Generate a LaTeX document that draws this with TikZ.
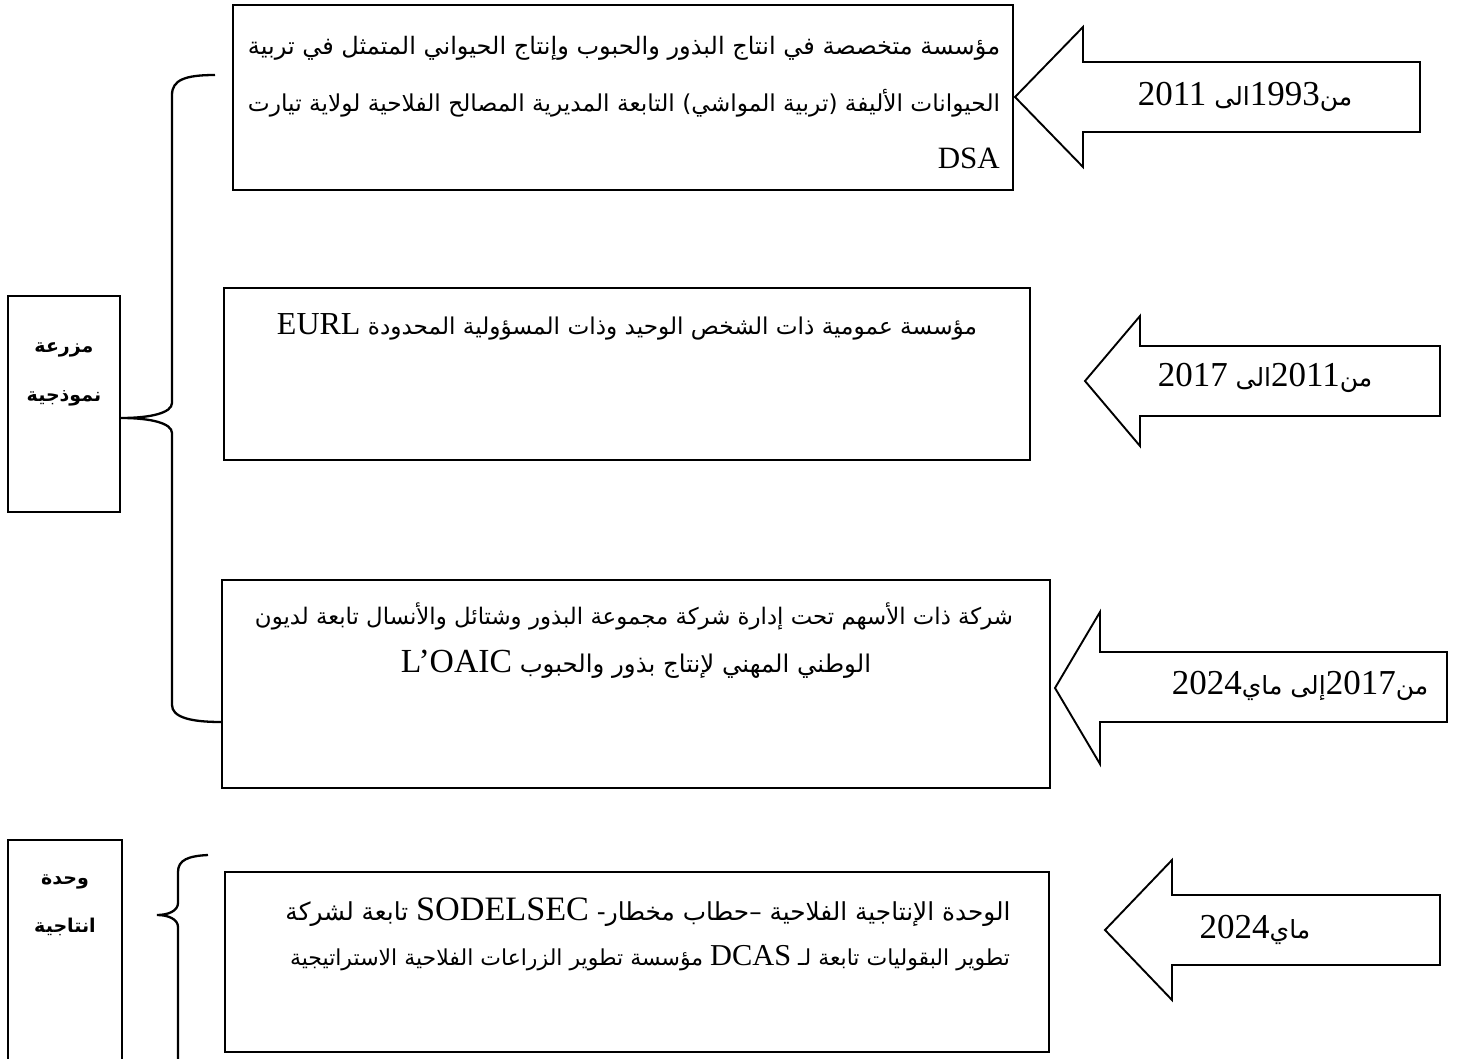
\documentclass[tikz,border=0pt]{standalone}
\usepackage{graphicx}
\usepackage{fontspec}
\setmainfont{Liberation Serif}
\newfontfamily\arabicfont[Script=Arabic]{DejaVu Sans}
\TeXXeTstate=1
\newcommand{\ArT}{\arabicfont\fontsize{21}{24}\selectfont}
\newcommand{\LaT}{\rmfamily\fontsize{29}{32}\selectfont}
\newcommand{\LaB}{\rmfamily\fontsize{31}{34}\selectfont}
\newcommand{\ArA}{\arabicfont\fontsize{25}{28}\selectfont}
\newcommand{\LaA}{\rmfamily\fontsize{35}{38}\selectfont}
\newcommand{\ArS}{\arabicfont\bfseries\fontsize{19}{22}\selectfont}
\begin{document}
\begin{tikzpicture}[x=1pt,y=-1pt,
  boxs/.style={draw, line width=2.3pt, inner sep=0pt},
  arrs/.style={draw, line width=1.9pt, line join=miter},
  brs/.style={draw, line width=2.3pt},
  txt/.style={inner sep=0pt, anchor=center}]
\useasboundingbox[fill=white] (0,0) rectangle (1464,1059);

% main boxes
\node[boxs, minimum width=780pt, minimum height=185pt] (b1) at (623,97.5) {};
\node[boxs, minimum width=806pt, minimum height=172pt] (b2) at (627,374) {};
\node[boxs, minimum width=828pt, minimum height=208pt] (b3) at (636,684) {};
\node[boxs, minimum width=824pt, minimum height=180pt] (b4) at (637,962) {};
\node[boxs, minimum width=112pt, minimum height=216pt] (bA) at (64,404) {};
\node[boxs, minimum width=114pt, minimum height=240pt] (bB) at (65,960) {};

% box texts
\node[txt] (t1a) at (624,48) {\resizebox{752pt}{!}{\ArT\beginR مؤسسة متخصصة في انتاج البذور والحبوب وإنتاج الحيواني المتمثل في تربية\endR}};
\node[txt] (t1b) at (624,103) {\resizebox{752pt}{!}{\ArT\beginR الحيوانات الأليفة (تربية المواشي) التابعة المديرية المصالح الفلاحية لولاية تيارت\endR}};
\node[txt, anchor=east] (t1c) at (1000,158) {\LaB DSA};

\node[txt] (t2a) at (627,327) {\resizebox{700pt}{!}{\ArT\beginR مؤسسة عمومية ذات الشخص الوحيد وذات المسؤولية المحدودة \beginL{\LaT EURL}\endL\endR}};

\node[txt] (t3a) at (634,616) {\resizebox{758pt}{!}{\ArT\beginR شركة ذات الأسهم تحت إدارة شركة مجموعة البذور وشتائل والأنسال تابعة لديون\endR}};
\node[txt] (t3b) at (636,664) {\resizebox{470pt}{!}{\ArT\beginR الوطني المهني لإنتاج بذور والحبوب \beginL{\LaT L’OAIC}\endL\endR}};

\node[txt] (t4a) at (648,912) {\resizebox{725pt}{!}{\ArT\beginR الوحدة الإنتاجية الفلاحية –حطاب مخطار- \beginL{\LaT SODELSEC}\endL{} تابعة لشركة\endR}};
\node[txt] (t4b) at (650,958) {\resizebox{720pt}{!}{\ArT\beginR تطوير البقوليات تابعة لـ \beginL{\LaT DCAS}\endL{} مؤسسة تطوير الزراعات الفلاحية الاستراتيجية\endR}};

\node[txt] (tA1) at (64,350) {\ArS مزرعة};
\node[txt] (tA2) at (64,398) {\ArS نموذجية};
\node[txt] (tB1) at (65,882) {\ArS وحدة};
\node[txt] (tB2) at (65,927) {\ArS انتاجية};

% arrows
\coordinate (a1tip) at (1015,97);
\draw[arrs] (a1tip) -- (1083,27) -- (1083,62) -- (1420,62) -- (1420,132) -- (1083,132) -- (1083,167) -- cycle;
\node[txt] (a1t) at (1245,97) {\ArA\beginR من\beginL{\LaA 1993}\endL الى \beginL{\LaA 2011}\endL\endR};

\coordinate (a2tip) at (1085,381);
\draw[arrs] (a2tip) -- (1140,316) -- (1140,346) -- (1440,346) -- (1440,416) -- (1140,416) -- (1140,446) -- cycle;
\node[txt] (a2t) at (1265,378) {\ArA\beginR من\beginL{\LaA 2011}\endL الى \beginL{\LaA 2017}\endL\endR};

\coordinate (a3tip) at (1055,688);
\draw[arrs] (a3tip) -- (1100,612) -- (1100,652) -- (1447,652) -- (1447,722) -- (1100,722) -- (1100,764) -- cycle;
\node[txt] (a3t) at (1300,686) {\ArA\beginR من\beginL{\LaA 2017}\endL إلى ماي\beginL{\LaA 2024}\endL\endR};

\coordinate (a4tip) at (1105,930);
\draw[arrs] (a4tip) -- (1172,860) -- (1172,895) -- (1440,895) -- (1440,965) -- (1172,965) -- (1172,1000) -- cycle;
\node[txt] (a4t) at (1255,930) {\ArA\beginR ماي\beginL{\LaA 2024}\endL\endR};

% brackets
\coordinate (br1t) at (215,75);
\coordinate (br1m) at (bA.east |- 0,418);
\coordinate (br1b) at (b3.west |- 0,722);
\draw[brs] (br1t) .. controls (185,75) and (172,80) .. (172,95) -- (172,403)
  .. controls (172,413) and (150,418) .. (br1m)
  .. controls (150,418) and (172,423) .. (172,433) -- (172,705)
  .. controls (172,717) and (190,722) .. (br1b);

\coordinate (br2t) at (208,855);
\coordinate (br2m) at (157,915);
\coordinate (br2b) at (178,1075);
\draw[brs] (br2t) .. controls (188,856) and (178,860) .. (178,872) -- (178,903)
  .. controls (178,911) and (168,915) .. (br2m)
  .. controls (168,915) and (178,919) .. (178,927) -- (br2b);
\end{tikzpicture}
\end{document}
